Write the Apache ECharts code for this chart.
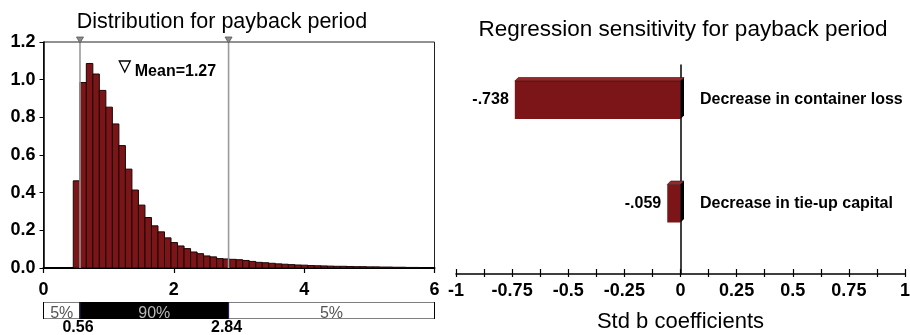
<!DOCTYPE html>
<html>
<head>
<meta charset="utf-8">
<script src="https://cdn.jsdelivr.net/npm/echarts@6/dist/echarts.min.js"></script>
<style>
  html, body { margin: 0; padding: 0; background: #ffffff; }
  #chart { width: 910px; height: 335px; }
</style>
</head>
<body>
<div id="chart"></div>
<script>
// ---- Distribution for payback period (histogram, density per bin) ----
const binStart = 0.457;
const binWidth = 0.1;
const density = [
  0.463, 0.985, 1.086, 1.030, 0.943, 0.854, 0.765, 0.650, 0.525, 0.414,
  0.334, 0.268, 0.224, 0.192, 0.160, 0.135, 0.117, 0.103, 0.085, 0.076,
  0.064, 0.059, 0.050, 0.048, 0.046, 0.044, 0.040, 0.035, 0.030, 0.028,
  0.025, 0.022, 0.020, 0.018, 0.016, 0.015, 0.013, 0.012, 0.011, 0.010,
  0.009, 0.009, 0.008, 0.007, 0.007, 0.006, 0.006, 0.005, 0.005, 0.004,
  0.004, 0.003, 0.003
];
const meanValue = 1.27;
const percentileCuts = [0.56, 2.84];
const percentileShares = ['5%', '90%', '5%'];
const distXTicks = [0, 2, 4, 6];
const distYTicks = [0, 0.2, 0.4, 0.6, 0.8, 1.0, 1.2];

// ---- Regression sensitivity ----
const drivers = ['Decrease in container loss', 'Decrease in tie-up capital'];
const coefficients = [-0.738, -0.059];
const coefficientLabels = ['-.738', '-.059'];

const FONT = "'Liberation Sans', Arial, Helvetica, sans-serif";
const BAR_RED = '#7b1518';

const chart = echarts.init(document.getElementById('chart'), null, { renderer: 'canvas' });

const xMin = distXTicks[0];
const xMax = distXTicks[distXTicks.length - 1];
const yMax = distYTicks[distYTicks.length - 1];

const segments = [];
const edges = [xMin].concat(percentileCuts, [xMax]);
for (let i = 0; i < percentileShares.length; i++) {
  segments.push([edges[i], edges[i + 1], percentileShares[i], i]);
}

const option = {
  animation: false,
  backgroundColor: '#ffffff',
  textStyle: { fontFamily: FONT },
  title: [
    {
      text: 'Distribution for payback period',
      left: 217, top: 6, textAlign: 'center',
      textStyle: { fontFamily: FONT, fontSize: 21.5, fontWeight: 'normal', color: '#000' }
    },
    {
      text: 'Regression sensitivity for payback period',
      left: 678, top: 13, textAlign: 'center',
      textStyle: { fontFamily: FONT, fontSize: 22.5, fontWeight: 'normal', color: '#000' }
    }
  ],
  grid: [
    { left: 43.5, top: 42, width: 391, height: 226, outerBoundsMode: 'none',
      show: true, borderColor: '#222', borderWidth: 1, backgroundColor: 'transparent' },
    { left: 456, top: 65, width: 449, height: 209, outerBoundsMode: 'none' },
    { left: 43.5, top: 302, width: 391, height: 17, outerBoundsMode: 'none' }
  ],
  xAxis: [
    {
      gridIndex: 0, type: 'value', position: 'bottom', min: xMin, max: xMax, interval: 2,
      axisLine: { show: true, onZero: false, lineStyle: { color: '#000', width: 2 } },
      axisTick: { show: true, length: 5, lineStyle: { color: '#000', width: 1.2 } },
      axisLabel: { fontFamily: FONT, fontSize: 18, fontWeight: 'bold', color: '#000', margin: 13 },
      splitLine: { show: false }
    },
    {
      gridIndex: 1, type: 'value', position: 'bottom', min: -1, max: 1, interval: 0.25,
      axisLine: { show: true, onZero: false, lineStyle: { color: '#000', width: 1.5 } },
      axisTick: { show: true, length: 3, lineStyle: { color: '#000', width: 1.2 } },
      minorTick: { show: true, splitNumber: 2, length: 3, lineStyle: { color: '#000', width: 1.2 } },
      axisLabel: { fontFamily: FONT, fontSize: 18, fontWeight: 'bold', color: '#000', margin: 8 },
      splitLine: { show: false },
      minorSplitLine: { show: false },
      name: 'Std b coefficients', nameLocation: 'middle', nameGap: 37,
      nameTextStyle: { fontFamily: FONT, fontSize: 22, color: '#000', verticalAlign: 'top' }
    },
    {
      gridIndex: 1, type: 'value', position: 'bottom', min: -1, max: 1, interval: 0.25,
      axisLine: { show: false, onZero: false },
      axisTick: { show: true, inside: true, length: 5, lineStyle: { color: '#000', width: 1.2 } },
      minorTick: { show: true, splitNumber: 2, length: 5, lineStyle: { color: '#000', width: 1.2 } },
      axisLabel: { show: false },
      splitLine: { show: false }
    },
    {
      gridIndex: 2, type: 'value', min: xMin, max: xMax, show: false
    }
  ],
  yAxis: [
    {
      gridIndex: 0, type: 'value', min: 0, max: yMax, interval: 0.2,
      axisLine: { show: true, lineStyle: { color: '#000', width: 1.5 } },
      axisTick: { show: true, length: 4, lineStyle: { color: '#000' } },
      axisLabel: {
        fontFamily: FONT, fontSize: 18, fontWeight: 'bold', color: '#000', margin: 8,
        formatter: v => v.toFixed(1)
      },
      splitLine: { show: false }
    },
    {
      // category rows: index 0 and 1, zero line drawn by the axis line at x = 0
      gridIndex: 1, type: 'value', min: -0.338, max: 1.681, inverse: true,
      axisLine: { show: true, onZero: true, lineStyle: { color: '#000', width: 1.5 } },
      axisTick: { show: false }, axisLabel: { show: false }, splitLine: { show: false }
    },
    {
      gridIndex: 2, type: 'value', min: 0, max: 1, show: false
    }
  ],
  series: [
    {
      // histogram bins
      type: 'custom', xAxisIndex: 0, yAxisIndex: 0, clip: true,
      data: density.map((v, i) => [binStart + i * binWidth, v]),
      renderItem: function (params, api) {
        const x0 = api.value(0);
        const v = api.value(1);
        const a = api.coord([x0, 0]);
        const b = api.coord([x0 + binWidth, v]);
        return {
          type: 'rect',
          shape: { x: a[0], y: b[1], width: b[0] - a[0], height: a[1] - b[1] },
          style: { fill: BAR_RED, stroke: '#1c0606', lineWidth: 1 }
        };
      }
    },
    {
      // percentile marker lines with triangles on the top border
      type: 'custom', xAxisIndex: 0, yAxisIndex: 0, clip: false, z: 5,
      data: percentileCuts.map(v => [v]),
      renderItem: function (params, api) {
        const v = api.value(0);
        const bot = api.coord([v, 0]);
        const top = api.coord([v, yMax]);
        return {
          type: 'group',
          children: [
            { type: 'line', shape: { x1: bot[0], y1: bot[1], x2: top[0], y2: top[1] },
              style: { stroke: '#9a9a9a', lineWidth: 1.6 } },
            { type: 'polygon', shape: { points: [[top[0] - 3.5, top[1] - 5], [top[0] + 3.5, top[1] - 5], [top[0], top[1] + 1]] },
              style: { fill: '#8a8a8a', stroke: '#555', lineWidth: 0.8 } }
          ]
        };
      }
    },
    {
      // mean marker
      type: 'custom', xAxisIndex: 0, yAxisIndex: 0, clip: false, z: 6,
      data: [[meanValue]],
      renderItem: function (params, api) {
        const v = api.value(0);
        const top = api.coord([v, yMax]);
        const cx = top[0] - 1.5;
        const ty = top[1] + 19;
        return {
          type: 'group',
          children: [
            { type: 'polygon', shape: { points: [[cx - 5.5, ty], [cx + 5.5, ty], [cx, ty + 11]] },
              style: { fill: '#fff', stroke: '#000', lineWidth: 1.3 } },
            { type: 'text', x: cx + 10, y: ty + 11,
              style: { text: 'Mean=' + v.toFixed(2), fontFamily: FONT, fontSize: 16, fontWeight: 'bold',
                       fill: '#000', align: 'left', verticalAlign: 'middle' } }
          ]
        };
      }
    },
    {
      // percentile band
      type: 'custom', xAxisIndex: 3, yAxisIndex: 2, clip: true,
      data: segments,
      renderItem: function (params, api) {
        const s = api.value(0), e = api.value(1);
        const idx = api.value(3);
        const a = api.coord([s, 0]);
        const b = api.coord([e, 1]);
        const inner = idx === 1;
        return {
          type: 'group',
          children: [
            { type: 'rect', shape: { x: a[0], y: b[1], width: b[0] - a[0], height: a[1] - b[1] },
              style: { fill: inner ? '#000' : '#fff', stroke: '#000', lineWidth: 1 } },
            { type: 'text', x: (a[0] + b[0]) / 2, y: a[1] + 2.5,
              style: { text: segments[params.dataIndex][2], fontFamily: FONT, fontSize: 16,
                       fill: inner ? '#b8b8b8' : '#555', align: 'center', verticalAlign: 'bottom' } }
          ]
        };
      }
    },
    {
      // percentile values under the band
      type: 'custom', xAxisIndex: 3, yAxisIndex: 2, clip: false,
      data: percentileCuts.map(v => [v]),
      renderItem: function (params, api) {
        const v = api.value(0);
        const p = api.coord([v, 0]);
        return {
          type: 'group',
          children: [
            { type: 'line', shape: { x1: p[0], y1: p[1], x2: p[0], y2: p[1] - 17 },
              style: { stroke: '#202060', lineWidth: 1 } },
            { type: 'text', x: p[0] - 2, y: p[1] + 8.5,
              style: { text: v.toFixed(2), fontFamily: FONT, fontSize: 16, fontWeight: 'bold',
                       fill: '#000', align: 'center', verticalAlign: 'middle' } }
          ]
        };
      }
    },
    {
      // regression coefficient bars
      type: 'custom', xAxisIndex: 1, yAxisIndex: 1, clip: false,
      data: coefficients.map((v, i) => [v, i]),
      renderItem: function (params, api) {
        const v = api.value(0);
        const i = api.value(1);
        const z = api.coord([0, i]);
        const p = api.coord([v, i]);
        const half = 19;
        const d = 3.5;
        const xl = Math.min(z[0], p[0]);
        const xr = Math.max(z[0], p[0]);
        const yt = z[1] - half, yb = z[1] + half;
        return {
          type: 'group',
          children: [
            { type: 'rect', shape: { x: xl, y: yt, width: xr - xl, height: yb - yt },
              style: { fill: BAR_RED } },
            { type: 'polygon', shape: { points: [[xl, yt], [xl + d, yt - d], [xr + d, yt - d], [xr, yt]] },
              style: { fill: '#93292b', stroke: '#3a0a0a', lineWidth: 0.6 } },
            { type: 'polygon', shape: { points: [[xr, yt], [xr + d, yt - d], [xr + d, yb - d], [xr, yb]] },
              style: { fill: '#000' } },
            { type: 'text', x: xl - 6, y: z[1],
              style: { text: coefficientLabels[params.dataIndex], fontFamily: FONT, fontSize: 16, fontWeight: 'bold',
                       fill: '#000', align: 'right', verticalAlign: 'middle' } },
            { type: 'text', x: z[0] + 19.5, y: z[1],
              style: { text: drivers[params.dataIndex], fontFamily: FONT, fontSize: 16, fontWeight: 'bold',
                       fill: '#000', align: 'left', verticalAlign: 'middle' } }
          ]
        };
      }
    }
  ]
};

chart.setOption(option);
</script>
</body>
</html>
